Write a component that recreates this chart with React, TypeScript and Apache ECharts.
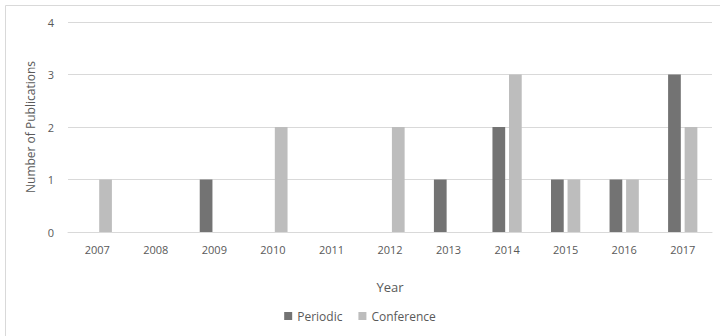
import React, { useEffect, useRef } from "react";
import * as echarts from "echarts";

const years = ["2007", "2008", "2009", "2010", "2011", "2012", "2013", "2014", "2015", "2016", "2017"];
const periodic = [0, 0, 1, 0, 0, 0, 1, 2, 1, 1, 3];
const conference = [1, 0, 0, 2, 0, 2, 0, 3, 1, 1, 2];
const yTicks = { min: 0, max: 4, interval: 1 };

const FONT = "'Open Sans', 'Noto Sans', sans-serif";

export default function App() {
  const ref = useRef<HTMLDivElement>(null);
  useEffect(() => {
    const chart = echarts.init(ref.current!, null, { renderer: "svg" });
    chart.setOption({
      animation: false,
      backgroundColor: "#ffffff",
      textStyle: { fontFamily: FONT },
      graphic: [
        {
          type: "rect",
          shape: { x: 5.5, y: 5.5, width: 730, height: 350 },
          style: { fill: "none", stroke: "#d9d9d9", lineWidth: 1 },
          silent: true,
        },
      ],
      grid: { left: 68, right: 8, top: 22, bottom: 104, containLabel: false },
      legend: {
        bottom: 9,
        left: "center",
        itemWidth: 8,
        itemHeight: 8,
        itemGap: 16,
        icon: "rect",
        textStyle: { color: "#595959", fontSize: 12, fontFamily: FONT },
        data: ["Periodic", "Conference"],
      },
      xAxis: {
        type: "category",
        data: years,
        name: "Year",
        nameLocation: "middle",
        nameGap: 48,
        nameTextStyle: { color: "#595959", fontSize: 13, fontFamily: FONT },
        axisLine: { lineStyle: { color: "#d9d9d9" } },
        axisTick: { show: false },
        axisLabel: { color: "#595959", fontSize: 11, margin: 12, fontFamily: FONT },
      },
      yAxis: {
        type: "value",
        min: yTicks.min,
        max: yTicks.max,
        interval: yTicks.interval,
        name: "Number of Publications",
        nameLocation: "middle",
        nameGap: 29,
        nameRotate: 90,
        nameTextStyle: { color: "#595959", fontSize: 12, fontFamily: FONT },
        axisLine: { show: false },
        axisTick: { show: false },
        axisLabel: { color: "#595959", fontSize: 11, margin: 14, fontFamily: FONT },
        splitLine: { lineStyle: { color: "#d9d9d9" } },
      },
      series: [
        {
          name: "Periodic",
          type: "bar",
          data: periodic,
          itemStyle: { color: "#737373" },
          barGap: "30%",
          barCategoryGap: "50%",
        },
        {
          name: "Conference",
          type: "bar",
          data: conference,
          itemStyle: { color: "#bdbdbd" },
          barGap: "30%",
          barCategoryGap: "50%",
        },
      ],
    });
    return () => chart.dispose();
  }, []);
  return (
    <div
      ref={ref}
      style={{ position: "absolute", left: 0, top: 0, width: 720, height: 336 }}
    />
  );
}
